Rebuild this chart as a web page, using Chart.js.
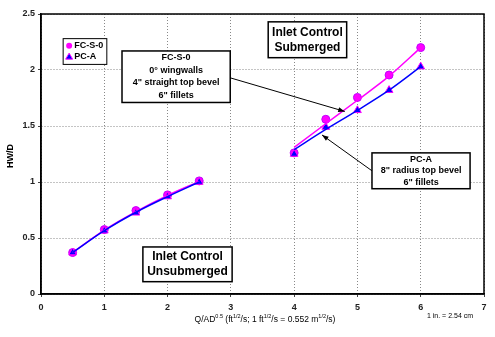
<!DOCTYPE html>
<html>
<head>
<meta charset="utf-8">
<script src="https://cdn.jsdelivr.net/npm/chart.js@4.4.0/dist/chart.umd.min.js"></script>
<style>
  html, body { margin: 0; padding: 0; background: #fff; }
  #wrap { width: 495px; height: 337px; }
</style>
</head>
<body>
<div id="wrap"><canvas id="myChart" width="495" height="337"></canvas></div>
<script>
// measured points
var qX = [0.5, 1, 1.5, 2, 2.5, 4, 4.5, 5, 5.5, 6]
var fcValues = [0.37, 0.575, 0.745, 0.885, 1.01, 1.26, 1.56, 1.755, 1.955, 2.2]
var pcValues = [0.37, 0.565, 0.725, 0.87, 1.0, 1.25, 1.49, 1.64, 1.82, 2.03]

// fitted curves (unsubmerged / submerged)
var fitUnsubX = [0.5, 1, 1.5, 2, 2.5]
var fcFitUnsub = [0.37, 0.57, 0.735, 0.88, 1.005]
var pcFitUnsub = [0.37, 0.565, 0.73, 0.87, 1.0]
var fitSubX = [4, 4.5, 5, 5.5, 6]
var fcFitSub = [1.31, 1.52, 1.73, 1.945, 2.2]
var pcFitSub = [1.29, 1.47, 1.64, 1.82, 2.03]

var xTicks = [0, 1, 2, 3, 4, 5, 6, 7]
var yTicks = [0, 0.5, 1, 1.5, 2, 2.5]

var magenta = "#ff00ff"
var blue = "#0000ff"
var font = "'Liberation Sans', Arial, sans-serif"

function pts(xs, ys) {
	return xs.map(function(x, i){ return {x: x, y: ys[i]} })
}

// boxes, arrows and texts drawn on top of the plot
var notes = {
	id: "notes",
	afterDatasetsDraw: function(chart) {
		var ctx = chart.ctx, a = chart.chartArea
		var sx = chart.scales.x, sy = chart.scales.y
		var X = function(v){ return sx.getPixelForValue(v) }
		var Y = function(v){ return sy.getPixelForValue(v) }

		ctx.save()
		// plot frame
		ctx.strokeStyle = "#000"
		ctx.lineWidth = 1.5
		ctx.strokeRect(a.left, a.top, a.right - a.left, a.bottom - a.top)

		function arrow(x1, y1, x2, y2) {
			var p1x = X(x1), p1y = Y(y1), p2x = X(x2), p2y = Y(y2)
			var ang = Math.atan2(p2y - p1y, p2x - p1x)
			ctx.strokeStyle = "#000"
			ctx.lineWidth = 1
			ctx.beginPath()
			ctx.moveTo(p1x, p1y)
			ctx.lineTo(p2x, p2y)
			ctx.stroke()
			ctx.fillStyle = "#000"
			ctx.beginPath()
			ctx.moveTo(p2x, p2y)
			ctx.lineTo(p2x - 7 * Math.cos(ang - 0.35), p2y - 7 * Math.sin(ang - 0.35))
			ctx.lineTo(p2x - 7 * Math.cos(ang + 0.35), p2y - 7 * Math.sin(ang + 0.35))
			ctx.closePath()
			ctx.fill()
		}

		function box(x1, y1, x2, y2, lines, size, gap) {
			var l = X(x1), t = Y(y1), r = X(x2), b = Y(y2)
			ctx.fillStyle = "#fff"
			ctx.fillRect(l, t, r - l, b - t)
			ctx.strokeStyle = "#000"
			ctx.lineWidth = 1.5
			ctx.strokeRect(l, t, r - l, b - t)
			ctx.fillStyle = "#000"
			ctx.font = "bold " + size + "px " + font
			ctx.textAlign = "center"
			ctx.textBaseline = "middle"
			var cy = (t + b) / 2 - (lines.length - 1) * gap / 2
			lines.forEach(function(s, i){ ctx.fillText(s, (l + r) / 2, cy + i * gap) })
		}

		arrow(2.99, 1.93, 4.8, 1.63)
		arrow(5.23, 1.1, 4.44, 1.42)

		box(1.28, 2.17, 2.99, 1.71, ["FC-S-0", "0\u00b0 wingwalls", "4\" straight top bevel", "6\" fillets"], 9, 12.5)
		box(3.59, 2.43, 4.83, 2.11, ["Inlet Control", "Submerged"], 12, 15)
		box(5.23, 1.26, 6.78, 0.94, ["PC-A", "8\" radius top bevel", "6\" fillets"], 9, 11.5)
		box(1.61, 0.42, 3.02, 0.11, ["Inlet Control", "Unsubmerged"], 12, 15)

		// legend
		var ll = X(0.35), lt = Y(2.28), lr = X(1.04), lb = Y(2.05)
		ctx.fillStyle = "#fff"
		ctx.fillRect(ll, lt, lr - ll, lb - lt)
		ctx.lineWidth = 1
		ctx.strokeStyle = "#000"
		ctx.strokeRect(ll, lt, lr - ll, lb - lt)
		ctx.font = "bold 9px " + font
		ctx.textAlign = "left"
		ctx.textBaseline = "middle"
		ctx.fillStyle = magenta
		ctx.beginPath(); ctx.arc(ll + 6, lt + 7, 3, 0, Math.PI * 2); ctx.fill()
		ctx.fillStyle = blue
		ctx.strokeStyle = magenta
		ctx.beginPath()
		ctx.moveTo(ll + 6, lt + 14.5); ctx.lineTo(ll + 9.5, lt + 20.5); ctx.lineTo(ll + 2.5, lt + 20.5)
		ctx.closePath(); ctx.fill(); ctx.stroke()
		ctx.fillStyle = "#000"
		ctx.fillText("FC-S-0", ll + 11, lt + 7)
		ctx.fillText("PC-A", ll + 11, lt + 18)

		// axis titles
		ctx.save()
		ctx.translate(11, (a.top + a.bottom) / 2 + 2)
		ctx.rotate(-Math.PI / 2)
		ctx.textAlign = "center"
		ctx.font = "bold 9px " + font
		ctx.fillText("HW/D", 0, 0)
		ctx.restore()

		var parts = [["Q/AD", 0], ["0.5", 1], [" (ft", 0], ["1/2", 1], ["/s; 1 ft", 0], ["1/2", 1], ["/s = 0.552 m", 0], ["1/2", 1], ["/s)", 0]]
		var bigF = "8.5px " + font, smallF = "5.5px " + font
		var total = 0
		parts.forEach(function(p){ ctx.font = p[1] ? smallF : bigF; total += ctx.measureText(p[0]).width })
		var px = 265 - total / 2, py = 322
		ctx.textAlign = "left"
		ctx.textBaseline = "alphabetic"
		parts.forEach(function(p){
			ctx.font = p[1] ? smallF : bigF
			ctx.fillText(p[0], px, p[1] ? py - 4 : py)
			px += ctx.measureText(p[0]).width
		})

		ctx.font = "7px " + font
		ctx.textAlign = "center"
		ctx.fillText("1 in. = 2.54 cm", 450, 318)
		ctx.restore()
	}
}

var canvasCtx = document.getElementById("myChart").getContext("2d")
var config = {
	type: "scatter",
	data: {
		datasets: [
			{label: "FC-S-0 fit", order: 1, data: pts(fitUnsubX, fcFitUnsub), showLine: true, borderColor: magenta, borderWidth: 1.5, pointRadius: 0, cubicInterpolationMode: "monotone"},
			{label: "FC-S-0 fit", order: 1, data: pts(fitSubX, fcFitSub), showLine: true, borderColor: magenta, borderWidth: 1.5, pointRadius: 0, cubicInterpolationMode: "monotone"},
			{label: "PC-A fit", order: 0, data: pts(fitUnsubX, pcFitUnsub), showLine: true, borderColor: blue, borderWidth: 1.5, pointRadius: 0, cubicInterpolationMode: "monotone"},
			{label: "PC-A fit", order: 0, data: pts(fitSubX, pcFitSub), showLine: true, borderColor: blue, borderWidth: 1.5, pointRadius: 0, cubicInterpolationMode: "monotone"},
			{label: "FC-S-0", order: 3, data: pts(qX, fcValues), pointStyle: "circle", pointRadius: 4, backgroundColor: magenta, borderColor: "#c000ff", borderWidth: 1},
			{label: "PC-A", order: 2, data: pts(qX, pcValues), pointStyle: "triangle", pointRadius: 4.5, backgroundColor: blue, borderColor: magenta, borderWidth: 1}
		]
	},
	options: {
		responsive: false,
		maintainAspectRatio: false,
		animation: false,
		devicePixelRatio: 1,
		layout: {padding: {left: 0, right: 11, top: 14, bottom: 0}},
		plugins: {legend: {display: false}, tooltip: {enabled: false}},
		scales: {
			x: {
				type: "linear", min: 0, max: 7,
				afterBuildTicks: function(s){ s.ticks = xTicks.map(function(v){ return {value: v} }) },
				afterFit: function(s){ s.height = 43 },
				grid: {color: "#888", tickLength: 3, tickColor: "#444", tickBorderDash: []},
				border: {display: true, color: "#000", width: 1.5, dash: [1, 2]},
				ticks: {padding: 5, color: "#222", font: {family: font, size: 9, weight: "bold"}, callback: function(v){ return String(v) }}
			},
			y: {
				type: "linear", min: 0, max: 2.5,
				afterBuildTicks: function(s){ s.ticks = yTicks.map(function(v){ return {value: v} }) },
				afterFit: function(s){ s.width = 41 },
				grid: {color: "#888", tickLength: 3, tickColor: "#444", tickBorderDash: []},
				border: {display: true, color: "#000", width: 1.5, dash: [1, 2]},
				ticks: {padding: 3, color: "#222", font: {family: font, size: 9, weight: "bold"}, callback: function(v){ return String(v) }}
			}
		}
	},
	plugins: [notes]
}
var myChart = new Chart(canvasCtx, config)
</script>
</body>
</html>
